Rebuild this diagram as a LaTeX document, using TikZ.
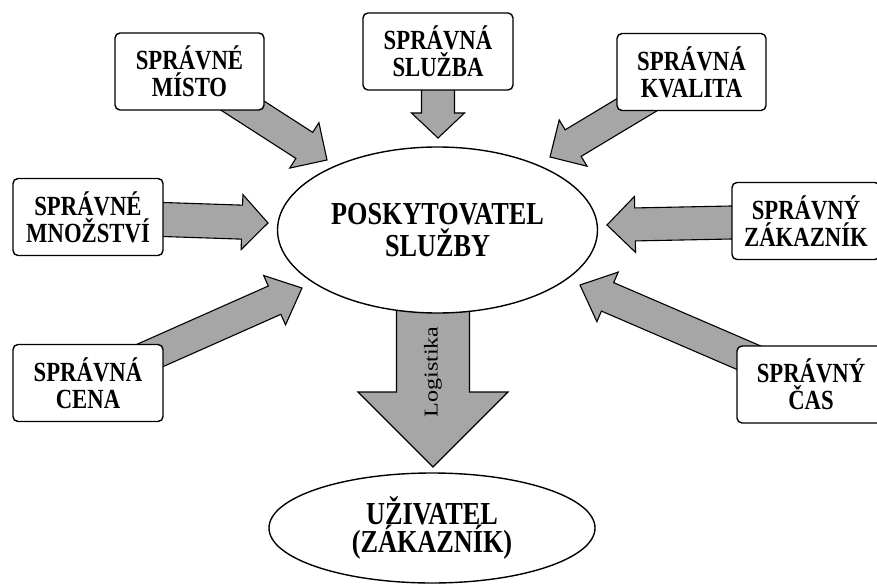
\documentclass[tikz,border=0pt]{standalone}
\usepackage{fontspec}
\setmainfont{Liberation Serif}
\newfontfamily\tallserif[FakeStretch=0.82]{Liberation Serif}
\newfontfamily\longserif[FakeStretch=1.23]{Liberation Serif}
\usetikzlibrary{calc,shapes.geometric,backgrounds}
\tikzset{
  box/.style={draw, line width=1.4pt, rounded corners=5pt, fill=white,
    minimum width=149pt, minimum height=77pt, align=center, inner sep=0pt,
    font=\tallserif\bfseries\fontsize{27.7}{27.3}\selectfont,
    execute at begin node={\rule{0pt}{30pt}}},
  oval/.style={ellipse, draw, line width=1.4pt, fill=white, inner sep=0pt,
    align=center, font=\tallserif\bfseries\fontsize{32}{31.7}\selectfont},
  blk/.style={draw, line width=1.1pt, fill=gray!70, line join=miter},
  lbl/.style={font=\longserif\fontsize{19.6}{22}\selectfont, inner sep=0pt}
}
% #1 tail, #2 tip, #3 shaft half width, #4 head half width, #5 head length
\newcommand{\blockarrow}[5]{%
  \coordinate (hb) at ($(#2)!#5!(#1.center)$);
  \draw[blk] ($(#1.center)!#3!90:(#2)$) -- ($(hb)!#3!90:(#2)$) -- ($(hb)!#4!90:(#2)$)
    -- (#2) -- ($(hb)!#4!-90:(#2)$) -- ($(hb)!#3!-90:(#2)$)
    -- ($(#1.center)!#3!-90:(#2)$) -- cycle;}
\begin{document}
\begin{tikzpicture}[x=1pt,y=-1pt]
\useasboundingbox (0,0) rectangle (877,585);
\node[box] (misto) at (189.5,71.5) {SPRÁVNÉ\\MÍSTO};
\node[box, minimum width=150pt] (sluzba) at (438,51.5) {SPRÁVNÁ\\SLUŽBA};
\node[box] (kvalita) at (691.5,72) {SPRÁVNÁ\\KVALITA};
\node[box, minimum width=150pt] (mnozstvi) at (88,217) {SPRÁVNÉ\\MNOŽSTVÍ};
\node[box, minimum width=148pt] (zakaznik) at (806,221) {SPRÁVNÝ\\ZÁKAZNÍK};
\node[box, minimum width=150pt] (cena) at (88,383) {SPRÁVNÁ\\CENA};
\node[box, minimum width=148pt] (cas) at (811,384.5) {SPRÁVNÝ\\ČAS};
\node[oval, minimum width=320pt, minimum height=166pt,
  execute at begin node={\rule{0pt}{25pt}}] (main) at (437.5,230) {POSKYTOVATEL\\SLUŽBY};
\node[oval, minimum width=326pt, minimum height=110pt,
  font=\tallserif\bfseries\fontsize{32}{27.7}\selectfont,
  execute at begin node={\rule{0pt}{40pt}}] (user) at (432,528) {UŽIVATEL\\(ZÁKAZNÍK)};

\coordinate (t1) at (327,160);
\coordinate (t2) at (438,138);
\coordinate (t3) at (550,157);
\coordinate (t4) at (607,225);
\coordinate (t5) at (580,285);
\coordinate (t6) at (268,223);
\coordinate (t7) at (302,288);
\coordinate (logtail) at (433,300);
\coordinate (logtip) at (433,467);

\begin{scope}[on background layer]
\blockarrow{misto}{t1}{15.5pt}{27pt}{27pt}
\blockarrow{sluzba}{t2}{16.5pt}{26.5pt}{25pt}
\blockarrow{kvalita}{t3}{15.5pt}{27pt}{27pt}
\blockarrow{zakaznik}{t4}{16.5pt}{28pt}{28pt}
\blockarrow{cas}{t5}{15.5pt}{27pt}{30pt}
\blockarrow{mnozstvi}{t6}{17pt}{27.5pt}{26pt}
\blockarrow{cena}{t7}{15.5pt}{27pt}{30pt}
\blockarrow{logtail}{logtip}{36.5pt}{75pt}{75pt}
\end{scope}
\node[lbl, rotate=90] (logl) at (433,372) {Logistika};
\end{tikzpicture}
\end{document}
